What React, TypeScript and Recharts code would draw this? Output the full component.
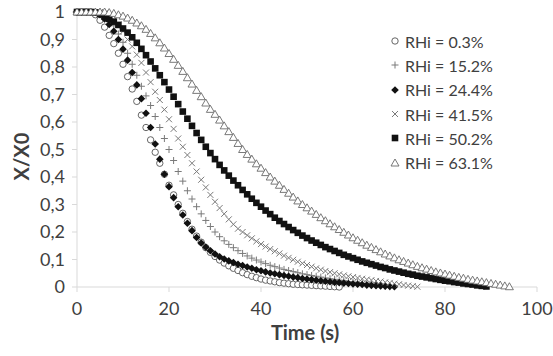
import { ScatterChart, Scatter, XAxis, YAxis, Label } from "recharts";

// X/X0 read every second, index = time (s)
const rh03 = [1, 1, 1, 1, 0.99, 0.97, 0.945, 0.915, 0.885, 0.85, 0.81, 0.765, 0.72, 0.675, 0.625, 0.58, 0.535, 0.49, 0.45, 0.41, 0.37, 0.335, 0.3, 0.268, 0.238, 0.21, 0.185, 0.163, 0.143, 0.126, 0.111, 0.098, 0.087, 0.077, 0.068, 0.06, 0.052, 0.045, 0.039, 0.034, 0.029, 0.025, 0.022, 0.019, 0.016, 0.014, 0.012, 0.01, 0.009, 0.008, 0.007, 0.006, 0.005, 0.004, 0.003, 0.002, 0.001, 0];
const rh152 = [1, 1, 1, 1, 1, 0.995, 0.985, 0.97, 0.95, 0.92, 0.89, 0.85, 0.81, 0.77, 0.73, 0.695, 0.66, 0.62, 0.58, 0.54, 0.5, 0.46, 0.42, 0.385, 0.35, 0.32, 0.292, 0.266, 0.242, 0.22, 0.2, 0.183, 0.168, 0.155, 0.143, 0.132, 0.122, 0.113, 0.105, 0.098, 0.091, 0.085, 0.079, 0.074, 0.069, 0.064, 0.06, 0.056, 0.052, 0.048, 0.045, 0.042, 0.039, 0.036, 0.033, 0.03, 0.028, 0.025, 0.023, 0.02, 0.018, 0.016, 0.013, 0.011, 0.009, 0.007, 0.005, 0.003, 0.001];
const rh244 = [1, 1, 1, 1, 1, 0.99, 0.975, 0.955, 0.93, 0.9, 0.865, 0.825, 0.78, 0.735, 0.685, 0.632, 0.58, 0.52, 0.465, 0.41, 0.365, 0.325, 0.292, 0.262, 0.232, 0.205, 0.18, 0.16, 0.145, 0.132, 0.12, 0.11, 0.102, 0.095, 0.089, 0.083, 0.078, 0.073, 0.068, 0.063, 0.059, 0.055, 0.051, 0.048, 0.045, 0.042, 0.039, 0.036, 0.034, 0.031, 0.029, 0.027, 0.025, 0.023, 0.021, 0.019, 0.017, 0.016, 0.014, 0.013, 0.011, 0.01, 0.009, 0.007, 0.006, 0.005, 0.004, 0.003, 0.002, 0.001];
const rh415 = [1, 1, 1, 1, 1, 1, 0.995, 0.985, 0.97, 0.955, 0.93, 0.9, 0.875, 0.845, 0.815, 0.78, 0.745, 0.71, 0.68, 0.645, 0.61, 0.575, 0.54, 0.51, 0.48, 0.45, 0.42, 0.39, 0.362, 0.335, 0.31, 0.287, 0.266, 0.246, 0.228, 0.212, 0.2, 0.188, 0.177, 0.166, 0.156, 0.147, 0.138, 0.13, 0.122, 0.114, 0.106, 0.099, 0.092, 0.086, 0.08, 0.074, 0.068, 0.063, 0.058, 0.054, 0.05, 0.046, 0.042, 0.039, 0.036, 0.033, 0.03, 0.027, 0.025, 0.022, 0.02, 0.017, 0.015, 0.012, 0.01, 0.007, 0.005, 0.003, 0.001];
const rh502 = [1, 1, 1, 1, 0.998, 0.993, 0.985, 0.975, 0.965, 0.953, 0.94, 0.925, 0.908, 0.888, 0.866, 0.843, 0.82, 0.795, 0.77, 0.745, 0.718, 0.692, 0.665, 0.638, 0.612, 0.586, 0.56, 0.535, 0.51, 0.487, 0.465, 0.444, 0.424, 0.405, 0.387, 0.37, 0.353, 0.337, 0.321, 0.306, 0.292, 0.278, 0.265, 0.252, 0.24, 0.229, 0.218, 0.207, 0.197, 0.187, 0.178, 0.169, 0.161, 0.153, 0.145, 0.138, 0.131, 0.124, 0.117, 0.111, 0.105, 0.099, 0.093, 0.088, 0.083, 0.078, 0.073, 0.069, 0.064, 0.06, 0.056, 0.052, 0.048, 0.045, 0.041, 0.038, 0.035, 0.032, 0.029, 0.026, 0.023, 0.021, 0.018, 0.016, 0.013, 0.011, 0.009, 0.006, 0.004, 0.002];
const rh631 = [1, 1, 1, 1, 1, 1, 1, 0.998, 0.995, 0.99, 0.985, 0.978, 0.97, 0.96, 0.95, 0.937, 0.922, 0.906, 0.888, 0.869, 0.849, 0.828, 0.806, 0.784, 0.761, 0.738, 0.715, 0.692, 0.669, 0.646, 0.628, 0.607, 0.586, 0.565, 0.544, 0.522, 0.5, 0.482, 0.465, 0.448, 0.432, 0.416, 0.4, 0.385, 0.37, 0.355, 0.341, 0.327, 0.313, 0.3, 0.288, 0.276, 0.264, 0.252, 0.241, 0.23, 0.219, 0.209, 0.199, 0.189, 0.179, 0.17, 0.161, 0.152, 0.144, 0.136, 0.128, 0.12, 0.113, 0.106, 0.099, 0.093, 0.087, 0.081, 0.075, 0.07, 0.065, 0.06, 0.055, 0.051, 0.047, 0.043, 0.039, 0.035, 0.032, 0.028, 0.025, 0.022, 0.019, 0.016, 0.013, 0.01, 0.007, 0.004, 0.001];

const seriesNames = ["RHi = 0.3%", "RHi = 15.2%", "RHi = 24.4%", "RHi = 41.5%", "RHi = 50.2%", "RHi = 63.1%"];
const xTicks = [0, 20, 40, 60, 80, 100];
const yTicks = [0, 0.1, 0.2, 0.3, 0.4, 0.5, 0.6, 0.7, 0.8, 0.9, 1];

const FONT = "Lato, 'Open Sans', sans-serif";
const TXT = "#404040";
const AXIS = "#d9d9d9";

type Kind = "circle" | "plus" | "diamond" | "cross" | "square" | "triangle";
const kinds: Kind[] = ["circle", "plus", "diamond", "cross", "square", "triangle"];
const values = [rh03, rh152, rh244, rh415, rh502, rh631];

function marker(kind: Kind, cx: number, cy: number) {
  switch (kind) {
    case "circle":
      return <circle cx={cx} cy={cy} r={3.2} fill="#fff" stroke="#555" strokeWidth={0.9} />;
    case "plus":
      return (
        <g stroke="#7a7a7a" strokeWidth={1}>
          <line x1={cx - 3.5} y1={cy} x2={cx + 3.5} y2={cy} />
          <line x1={cx} y1={cy - 3.5} x2={cx} y2={cy + 3.5} />
        </g>
      );
    case "diamond":
      return <polygon points={`${cx},${cy - 3.8} ${cx + 3.8},${cy} ${cx},${cy + 3.8} ${cx - 3.8},${cy}`} fill="#111" />;
    case "cross":
      return (
        <g stroke="#7a7a7a" strokeWidth={1}>
          <line x1={cx - 3} y1={cy - 3} x2={cx + 3} y2={cy + 3} />
          <line x1={cx - 3} y1={cy + 3} x2={cx + 3} y2={cy - 3} />
        </g>
      );
    case "square":
      return <rect x={cx - 3.3} y={cy - 3.3} width={6.6} height={6.6} fill="#111" />;
    default:
      return <polygon points={`${cx},${cy - 4} ${cx + 4},${cy + 3} ${cx - 4},${cy + 3}`} fill="#fff" stroke="#6a6a6a" strokeWidth={0.9} />;
  }
}

const fmtY = (v: number) => String(v).replace(".", ",");

function LegendBox() {
  return (
    <div style={{ position: "absolute", left: 389, top: 29, fontFamily: FONT, fontSize: 16, color: TXT }}>
      {seriesNames.map((name, i) => (
        <div key={name} style={{ display: "flex", alignItems: "center", height: 24.3 }}>
          <svg width={12} height={12} style={{ marginRight: 4 }}>
            {marker(kinds[i], 6, 6)}
          </svg>
          <span>{name}</span>
        </div>
      ))}
    </div>
  );
}

export default function App() {
  return (
    <div style={{ position: "absolute", left: 0, top: 0, width: 553, height: 356, background: "#fff" }}>
      <ScatterChart width={553} height={356} margin={{ top: 12, right: 16, bottom: 0, left: 0 }}>
        <XAxis
          type="number"
          dataKey="t"
          domain={[0, 100]}
          ticks={xTicks}
          height={69}
          stroke={AXIS}
          tickSize={5}
          tickMargin={10}
          tick={{ fill: TXT, fontSize: 18, fontFamily: FONT }}
        >
          <Label
            content={(p: any) => (
              <text x={p.viewBox.x + p.viewBox.width / 2 - 2} y={p.viewBox.y + 53} textAnchor="middle" fill={TXT} fontFamily={FONT} fontSize={20} fontWeight="bold">
                Time (s)
              </text>
            )}
          />
        </XAxis>
        <YAxis
          type="number"
          dataKey="v"
          domain={[0, 1]}
          ticks={yTicks}
          width={77}
          stroke={AXIS}
          tickSize={5}
          tickMargin={7}
          tickFormatter={fmtY}
          tick={{ fill: TXT, fontSize: 18, fontFamily: FONT }}
        >
          <Label
            content={(p: any) => {
              const x = p.viewBox.x + 29;
              const y = p.viewBox.y + p.viewBox.height / 2 + 7;
              return (
                <text x={x} y={y} transform={`rotate(-90 ${x} ${y})`} textAnchor="middle" fill={TXT} fontFamily={FONT} fontSize={20} fontWeight="bold">
                  X/X0
                </text>
              );
            }}
          />
        </YAxis>
        {values.map((vals, i) => (
          <Scatter
            key={seriesNames[i]}
            name={seriesNames[i]}
            data={vals.map((v, t) => ({ t, v }))}
            isAnimationActive={false}
            shape={(p: any) => marker(kinds[i], p.cx, p.cy)}
          />
        ))}
      </ScatterChart>
      <LegendBox />
    </div>
  );
}
